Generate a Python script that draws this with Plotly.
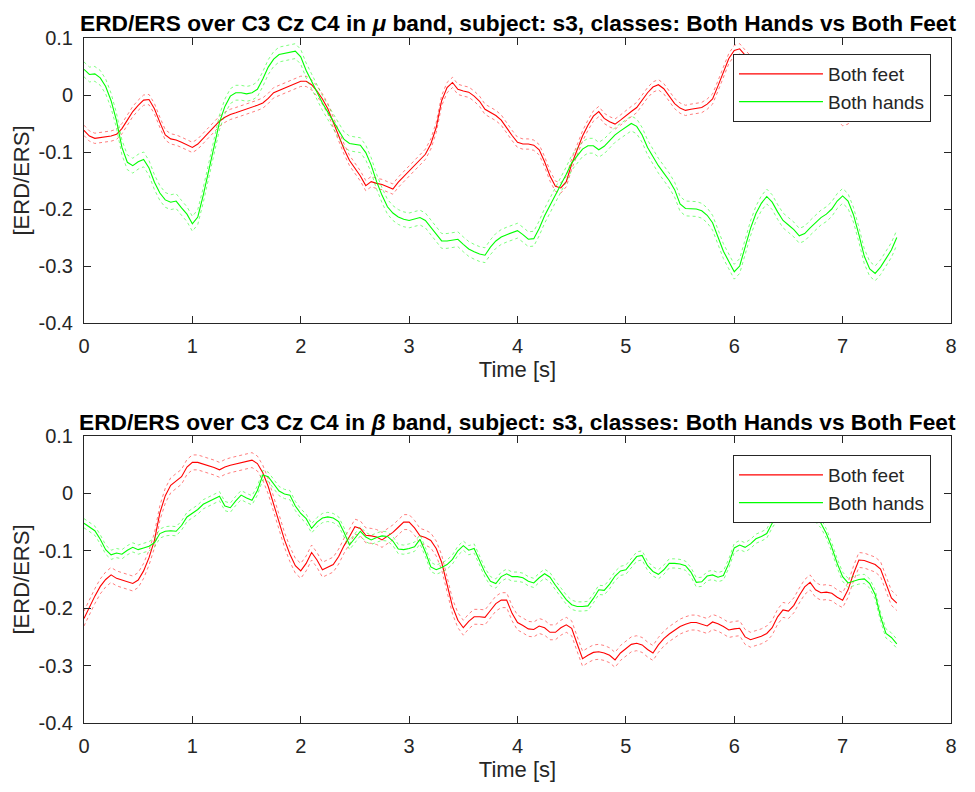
import numpy as np
import plotly.graph_objects as go
from plotly.subplots import make_subplots

# ---------------- data ----------------
time_s = np.round(np.arange(151) * 0.05, 2)  # 0 .. 7.5 s sampling grid

mu_feet = [
    -0.062, -0.072, -0.076, -0.075, -0.073, -0.072, -0.069, -0.059, -0.044, -0.029,
    -0.018, -0.009, -0.008, -0.024, -0.048, -0.070, -0.077, -0.079, -0.083, -0.088,
    -0.092, -0.086, -0.075, -0.066, -0.056, -0.046, -0.039, -0.034, -0.031, -0.028,
    -0.025, -0.022, -0.018, -0.014, -0.006, 0.004, 0.008, 0.011, 0.015, 0.019,
    0.024, 0.024, 0.018, 0.007, -0.007, -0.024, -0.048, -0.074, -0.095, -0.115,
    -0.128, -0.142, -0.159, -0.152, -0.155, -0.157, -0.161, -0.165, -0.153, -0.143,
    -0.133, -0.123, -0.113, -0.104, -0.086, -0.057, -0.010, 0.013, 0.022, 0.010,
    0.007, 0.005, -0.002, -0.011, -0.025, -0.030, -0.036, -0.044, -0.058, -0.071,
    -0.083, -0.086, -0.086, -0.088, -0.096, -0.117, -0.142, -0.160, -0.163, -0.152,
    -0.121, -0.096, -0.072, -0.053, -0.037, -0.029, -0.041, -0.047, -0.051, -0.044,
    -0.036, -0.029, -0.022, -0.009, 0.004, 0.014, 0.018, 0.011, -0.003, -0.015,
    -0.023, -0.027, -0.025, -0.024, -0.022, -0.016, -0.007, 0.016, 0.041, 0.064,
    0.078, 0.081, 0.070, 0.060, 0.050, 0.040, 0.032, 0.026, 0.020, 0.015,
    0.010, 0.005, 0.000, -0.005, -0.010, -0.015, -0.019, -0.023, -0.026, -0.035,
    -0.045, -0.042, -0.026, -0.020, -0.015, -0.010, -0.008, -0.005, -0.003, 0.000,
    0.002,
]
mu_hands = [
    0.045, 0.036, 0.037, 0.030, 0.015, -0.010, -0.045, -0.092, -0.118, -0.124,
    -0.117, -0.113, -0.128, -0.153, -0.172, -0.184, -0.188, -0.186, -0.198, -0.209,
    -0.226, -0.214, -0.176, -0.132, -0.090, -0.048, -0.020, -0.002, 0.004, 0.004,
    0.002, 0.004, 0.010, 0.028, 0.049, 0.063, 0.071, 0.073, 0.075, 0.077,
    0.067, 0.043, 0.024, 0.004, -0.014, -0.030, -0.046, -0.063, -0.078, -0.085,
    -0.086, -0.088, -0.101, -0.123, -0.152, -0.176, -0.196, -0.207, -0.214, -0.218,
    -0.220, -0.217, -0.215, -0.220, -0.232, -0.246, -0.256, -0.256, -0.255, -0.253,
    -0.262, -0.270, -0.275, -0.279, -0.281, -0.267, -0.256, -0.249, -0.245, -0.241,
    -0.238, -0.245, -0.253, -0.252, -0.234, -0.212, -0.194, -0.175, -0.158, -0.139,
    -0.119, -0.106, -0.095, -0.089, -0.089, -0.096, -0.090, -0.080, -0.070, -0.063,
    -0.057, -0.050, -0.055, -0.070, -0.092, -0.109, -0.124, -0.137, -0.150, -0.166,
    -0.191, -0.199, -0.200, -0.200, -0.203, -0.211, -0.224, -0.250, -0.274, -0.292,
    -0.310, -0.300, -0.266, -0.234, -0.208, -0.190, -0.178, -0.188, -0.205, -0.220,
    -0.228, -0.236, -0.247, -0.243, -0.233, -0.224, -0.215, -0.209, -0.200, -0.186,
    -0.177, -0.186, -0.210, -0.245, -0.283, -0.305, -0.313, -0.302, -0.287, -0.272,
    -0.250,
]
beta_feet = [
    -0.218, -0.197, -0.179, -0.162, -0.150, -0.142, -0.148, -0.151, -0.154, -0.157,
    -0.151, -0.135, -0.112, -0.082, -0.034, -0.004, 0.014, 0.021, 0.029, 0.046,
    0.054, 0.054, 0.051, 0.049, 0.045, 0.041, 0.046, 0.049, 0.051, 0.053,
    0.055, 0.058, 0.052, 0.036, 0.012, -0.019, -0.052, -0.081, -0.106, -0.126,
    -0.135, -0.122, -0.103, -0.116, -0.133, -0.129, -0.124, -0.110, -0.091, -0.075,
    -0.058, -0.061, -0.073, -0.074, -0.076, -0.081, -0.075, -0.068, -0.059, -0.050,
    -0.050, -0.060, -0.074, -0.077, -0.082, -0.096, -0.120, -0.158, -0.197, -0.221,
    -0.234, -0.223, -0.215, -0.215, -0.216, -0.204, -0.192, -0.186, -0.186, -0.209,
    -0.225, -0.230, -0.236, -0.237, -0.231, -0.234, -0.242, -0.242, -0.234, -0.229,
    -0.235, -0.262, -0.288, -0.282, -0.277, -0.276, -0.278, -0.282, -0.290, -0.278,
    -0.270, -0.263, -0.261, -0.264, -0.272, -0.278, -0.264, -0.253, -0.245, -0.239,
    -0.232, -0.228, -0.225, -0.225, -0.228, -0.231, -0.224, -0.227, -0.232, -0.238,
    -0.236, -0.235, -0.250, -0.255, -0.252, -0.249, -0.244, -0.234, -0.215, -0.203,
    -0.205, -0.195, -0.178, -0.163, -0.155, -0.168, -0.173, -0.172, -0.174, -0.181,
    -0.186, -0.168, -0.140, -0.116, -0.117, -0.120, -0.124, -0.132, -0.157, -0.182,
    -0.191,
]
beta_hands = [
    -0.052, -0.058, -0.065, -0.080, -0.098, -0.107, -0.104, -0.106, -0.099, -0.094,
    -0.098, -0.095, -0.092, -0.086, -0.070, -0.066, -0.065, -0.066, -0.056, -0.041,
    -0.035, -0.028, -0.019, -0.014, -0.009, -0.005, -0.022, -0.025, -0.013, -0.003,
    -0.008, -0.012, 0.005, 0.032, 0.029, 0.017, 0.004, -0.001, -0.003, -0.022,
    -0.035, -0.044, -0.061, -0.050, -0.043, -0.041, -0.043, -0.049, -0.068, -0.090,
    -0.078, -0.066, -0.076, -0.081, -0.077, -0.074, -0.075, -0.083, -0.097, -0.098,
    -0.096, -0.093, -0.080, -0.102, -0.128, -0.133, -0.129, -0.124, -0.115, -0.100,
    -0.091, -0.099, -0.096, -0.118, -0.138, -0.153, -0.157, -0.145, -0.140, -0.145,
    -0.145, -0.147, -0.153, -0.156, -0.147, -0.140, -0.146, -0.160, -0.173, -0.185,
    -0.194, -0.197, -0.197, -0.196, -0.183, -0.168, -0.169, -0.158, -0.144, -0.135,
    -0.133, -0.122, -0.110, -0.108, -0.126, -0.136, -0.141, -0.133, -0.122, -0.122,
    -0.123, -0.126, -0.137, -0.155, -0.154, -0.144, -0.142, -0.146, -0.143, -0.122,
    -0.095, -0.090, -0.094, -0.088, -0.079, -0.075, -0.070, -0.052, -0.038, -0.030,
    -0.025, -0.022, -0.020, -0.022, -0.032, -0.043, -0.052, -0.070, -0.094, -0.122,
    -0.145, -0.156, -0.153, -0.150, -0.149, -0.157, -0.176, -0.215, -0.244, -0.251,
    -0.262,
]
# half-width of the dotted confidence bounds
mu_feet_ci = 0.009
mu_hands_ci = 0.013
beta_feet_ci = 0.013
beta_hands_ci = 0.008

series_names = ["Both feet", "Both hands"]
x_ticks = [0, 1, 2, 3, 4, 5, 6, 7, 8]
y_ticks = [-0.4, -0.3, -0.2, -0.1, 0, 0.1]
y_tick_labels = ["-0.4", "-0.3", "-0.2", "-0.1", "0", "0.1"]
titles = [
    "ERD/ERS over C3 Cz C4 in <i>μ</i> band, subject: s3, classes: Both Hands vs Both Feet",
    "ERD/ERS over C3 Cz C4 in <i>β</i> band, subject: s3, classes: Both Hands vs Both Feet",
]

# ---------------- figure ----------------
FONT = "Liberation Sans, Arial, Helvetica, sans-serif"
TXT = "#262626"
RED = "#ff0000"
GREEN = "#00ff00"

fig = make_subplots(rows=2, cols=1)

panels = [
    (1, mu_feet, mu_feet_ci, mu_hands, mu_hands_ci, "legend"),
    (2, beta_feet, beta_feet_ci, beta_hands, beta_hands_ci, "legend2"),
]
for row, feet, feet_ci, hands, hands_ci, leg in panels:
    for name, vals, ci, col in [(series_names[0], feet, feet_ci, RED),
                                (series_names[1], hands, hands_ci, GREEN)]:
        v = np.array(vals)
        for bound in (v + ci, v - ci):
            fig.add_trace(go.Scatter(x=time_s, y=bound, mode="lines",
                                     line=dict(color=col, width=1, dash="dot"),
                                     opacity=0.5, showlegend=False, hoverinfo="skip"),
                          row=row, col=1)
        fig.add_trace(go.Scatter(x=time_s, y=v, mode="lines", name=name,
                                 line=dict(color=col, width=1.1),
                                 legend=leg),
                      row=row, col=1)

axis_common = dict(showgrid=False, zeroline=False, showline=True, linecolor=TXT,
                   linewidth=1, mirror="ticks", ticks="inside", ticklen=7,
                   tickcolor=TXT, tickwidth=1,
                   tickfont=dict(family=FONT, size=20, color=TXT))
for r in (1, 2):
    fig.update_xaxes(range=[0, 8], tickvals=x_ticks, ticktext=[str(t) for t in x_ticks],
                     title=dict(text="Time [s]", font=dict(family=FONT, size=22, color=TXT),
                                standoff=5),
                     ticklabelstandoff=5, **axis_common, row=r, col=1)
    fig.update_yaxes(range=[-0.4, 0.1], tickvals=y_ticks, ticktext=y_tick_labels,
                     title=dict(text="[ERD/ERS]", font=dict(family=FONT, size=22, color=TXT),
                                standoff=2),
                     ticklabelstandoff=6, **axis_common, row=r, col=1)

legend_common = dict(x=0.9769, xanchor="right", yanchor="top",
                     bgcolor="white", bordercolor=TXT, borderwidth=1,
                     font=dict(family=FONT, size=19, color=TXT), itemwidth=84,
                     tracegroupgap=0)
fig.update_layout(
    width=975, height=792,
    margin=dict(l=84, r=24, t=38, b=69),
    paper_bgcolor="white", plot_bgcolor="white",
    font=dict(family=FONT, color=TXT),
    xaxis=dict(domain=[0, 1], anchor="y"),
    yaxis=dict(domain=[0.5839, 1.0]),
    xaxis2=dict(domain=[0, 1], anchor="y2"),
    yaxis2=dict(domain=[0.0, 0.419]),
    legend=dict(y=0.9766, **legend_common),
    legend2=dict(y=0.3912, **legend_common),
    showlegend=True,
)

for text, ypos in zip(titles, [1.0219, 0.4394]):
    fig.add_annotation(text="<b>" + text + "</b>", xref="paper", yref="paper",
                       x=0.5, y=ypos, xanchor="center", yanchor="middle",
                       showarrow=False, font=dict(family=FONT, size=22.7, color="#000000"))

fig.write_html("out.html")
